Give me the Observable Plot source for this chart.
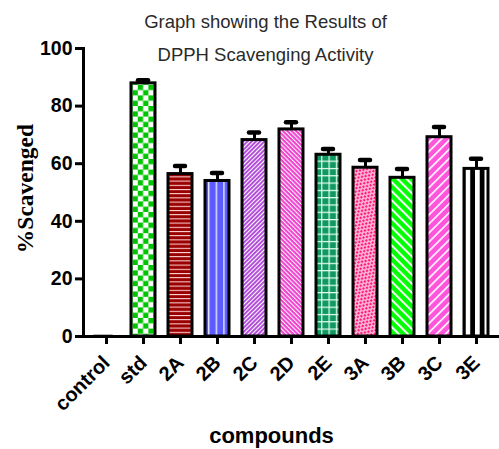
<!DOCTYPE html>
<html>
<head>
<meta charset="utf-8">
<script src="https://cdn.jsdelivr.net/npm/d3@7"></script>
<script src="https://cdn.jsdelivr.net/npm/@observablehq/plot@0.6"></script>
<style>
  html, body { margin: 0; padding: 0; background: #fff; }
</style>
</head>
<body>
<div id="chart"></div>
<script>
const categories = ["control", "std", "2A", "2B", "2C", "2D", "2E", "3A", "3B", "3C", "3E"];
const means = [0.3, 87.9, 56.4, 54.0, 68.2, 71.9, 63.1, 58.6, 55.1, 69.2, 58.2];
const errors = [0, 1.1, 2.8, 2.8, 2.6, 2.5, 2.0, 2.7, 3.1, 3.5, 3.5];
const yTicks = [0, 20, 40, 60, 80, 100];
const titleLines = ["Graph showing the Results of", "DPPH Scavenging Activity"];

const data = categories.map((name, i) => ({name, mean: means[i], err: errors[i]}));
const patterned = data.filter(d => d.name !== "control");
const controlData = data.filter(d => d.name === "control");
const withErr = data.filter(d => d.err > 0);

const fills = categories.map((c, i) => i === 0 ? "white" : `url(#pat${i})`);

const sans = "Liberation Sans, Arial, Helvetica, sans-serif";

const chart = Plot.plot({
  width: 499,
  height: 449,
  marginTop: 48,
  marginBottom: 113,
  marginLeft: 83,
  marginRight: 0,
  style: {fontFamily: sans, background: "white", overflow: "visible"},
  x: {domain: categories, paddingInner: 0.34, paddingOuter: 0.17},
  y: {domain: [0, 100]},
  color: {type: "ordinal", domain: categories, range: fills},
  marks: [
    Plot.barY(controlData, {x: "name", y: "mean", fill: "white", stroke: "#888", strokeWidth: 1.5, insetRight: 6}),
    Plot.barY(patterned, {x: "name", y: "mean", fill: "name", stroke: "black", strokeWidth: 3}),
    Plot.ruleX(withErr, {x: "name", y1: "mean", y2: d => d.mean + d.err, stroke: "black", strokeWidth: 3}),
    Plot.tickY(withErr, {x: "name", y: d => d.mean + d.err, stroke: "black", strokeWidth: 4.5, strokeLinecap: "round", insetLeft: 7, insetRight: 7}),
    Plot.frame({anchor: "left", stroke: "black", strokeWidth: 3}),
    Plot.ruleY([0], {stroke: "black", strokeWidth: 3}),
    Plot.axisY({ticks: yTicks, tickSize: 8, tickPadding: 3, fontSize: 19.5, fontWeight: "bold", strokeWidth: 3, label: null, color: "black"}),
    Plot.axisX({tickSize: 8, tickPadding: 15, tickRotate: -45, fontSize: 20, fontWeight: "bold", strokeWidth: 3, label: null, color: "black"}),
    Plot.text(["%Scavenged"], {frameAnchor: "left", textAnchor: "middle", lineAnchor: "middle", rotate: -90, dx: -58, dy: -4, fontSize: 23.5, fontWeight: "bold", fontFamily: "Liberation Serif, Times New Roman, serif", fill: "black"}),
    Plot.text(["compounds"], {frameAnchor: "bottom", lineAnchor: "middle", dx: -20, dy: 99, fontSize: 22, fontWeight: "bold", fill: "black"}),
    Plot.text([titleLines[0]], {frameAnchor: "top", lineAnchor: "middle", dx: -26, dy: -26, fontSize: 18.5, fill: "#2a2a2a"}),
    Plot.text([titleLines[1]], {frameAnchor: "top", lineAnchor: "middle", dx: -26, dy: 7, fontSize: 18.5, fill: "#2a2a2a"})
  ]
});

// pattern definitions for the bar fills
const svg = d3.select(chart);
const defs = svg.insert("defs", ":first-child");
function pat(id, w, h, bg, transform, draw) {
  const p = defs.append("pattern").attr("id", id)
    .attr("patternUnits", "userSpaceOnUse").attr("width", w).attr("height", h);
  if (transform) p.attr("patternTransform", transform);
  p.append("rect").attr("width", w).attr("height", h).attr("fill", bg);
  draw(p);
}
function r(p, x, y, w, h, f) { p.append("rect").attr("x", x).attr("y", y).attr("width", w).attr("height", h).attr("fill", f); }

// std: green checkerboard
pat("pat1", 10.6, 10.6, "white", null, p => { r(p, 0, 0, 5.3, 5.3, "#00c400"); r(p, 5.3, 5.3, 5.3, 5.3, "#00c400"); });
// 2A: dark red with white horizontal lines
pat("pat2", 4.2, 4.2, "#9b0000", null, p => { r(p, 0, 0, 4.2, 1, "#ffe0e0"); });
// 2B: blue with white vertical lines
pat("pat3", 7.6, 7.6, "#5b5bff", null, p => { r(p, 3, 0, 1.2, 7.6, "#ffffff"); });
// 2C: purple with dense "/" stripes
pat("pat4", 3.0, 3.0, "#b44fdc", "rotate(45)", p => { r(p, 0, 0, 1.0, 3.0, "#ffffff"); });
// 2D: pink with dense "\" stripes
pat("pat5", 3.1, 3.1, "#f044cf", "rotate(-45)", p => { r(p, 0, 0, 1.0, 3.1, "#ffffff"); });
// 2E: green with white grid
pat("pat6", 7.3, 7.3, "#0f9960", null, p => { r(p, 0, 0, 7.3, 1.2, "#e8fff0"); r(p, 0, 0, 1.2, 7.3, "#e8fff0"); });
// 3A: pink with white dash bricks
pat("pat7", 6, 4, "#ff1a7d", "rotate(-45)", p => {
  r(p, 0, 0.4, 4, 1.3, "#ffffff"); r(p, 3, 2.4, 4, 1.3, "#ffffff"); r(p, -3, 2.4, 4, 1.3, "#ffffff");
});
// 3B: bright green with "\" stripes
pat("pat8", 6.4, 6.4, "#00ff00", "rotate(-45)", p => { r(p, 0, 0, 2, 6.4, "#ffffff"); });
// 3C: pink with "/" stripes
pat("pat9", 6.4, 6.4, "#ff55dd", "rotate(45)", p => { r(p, 0, 0, 1.6, 6.4, "#ffffff"); });
// 3E: black and white vertical stripes
pat("pat10", 9.5, 9.5, "white", null, p => { r(p, 4.7, 0, 4.8, 9.5, "black"); });

document.getElementById("chart").appendChild(chart);
</script>
</body>
</html>
